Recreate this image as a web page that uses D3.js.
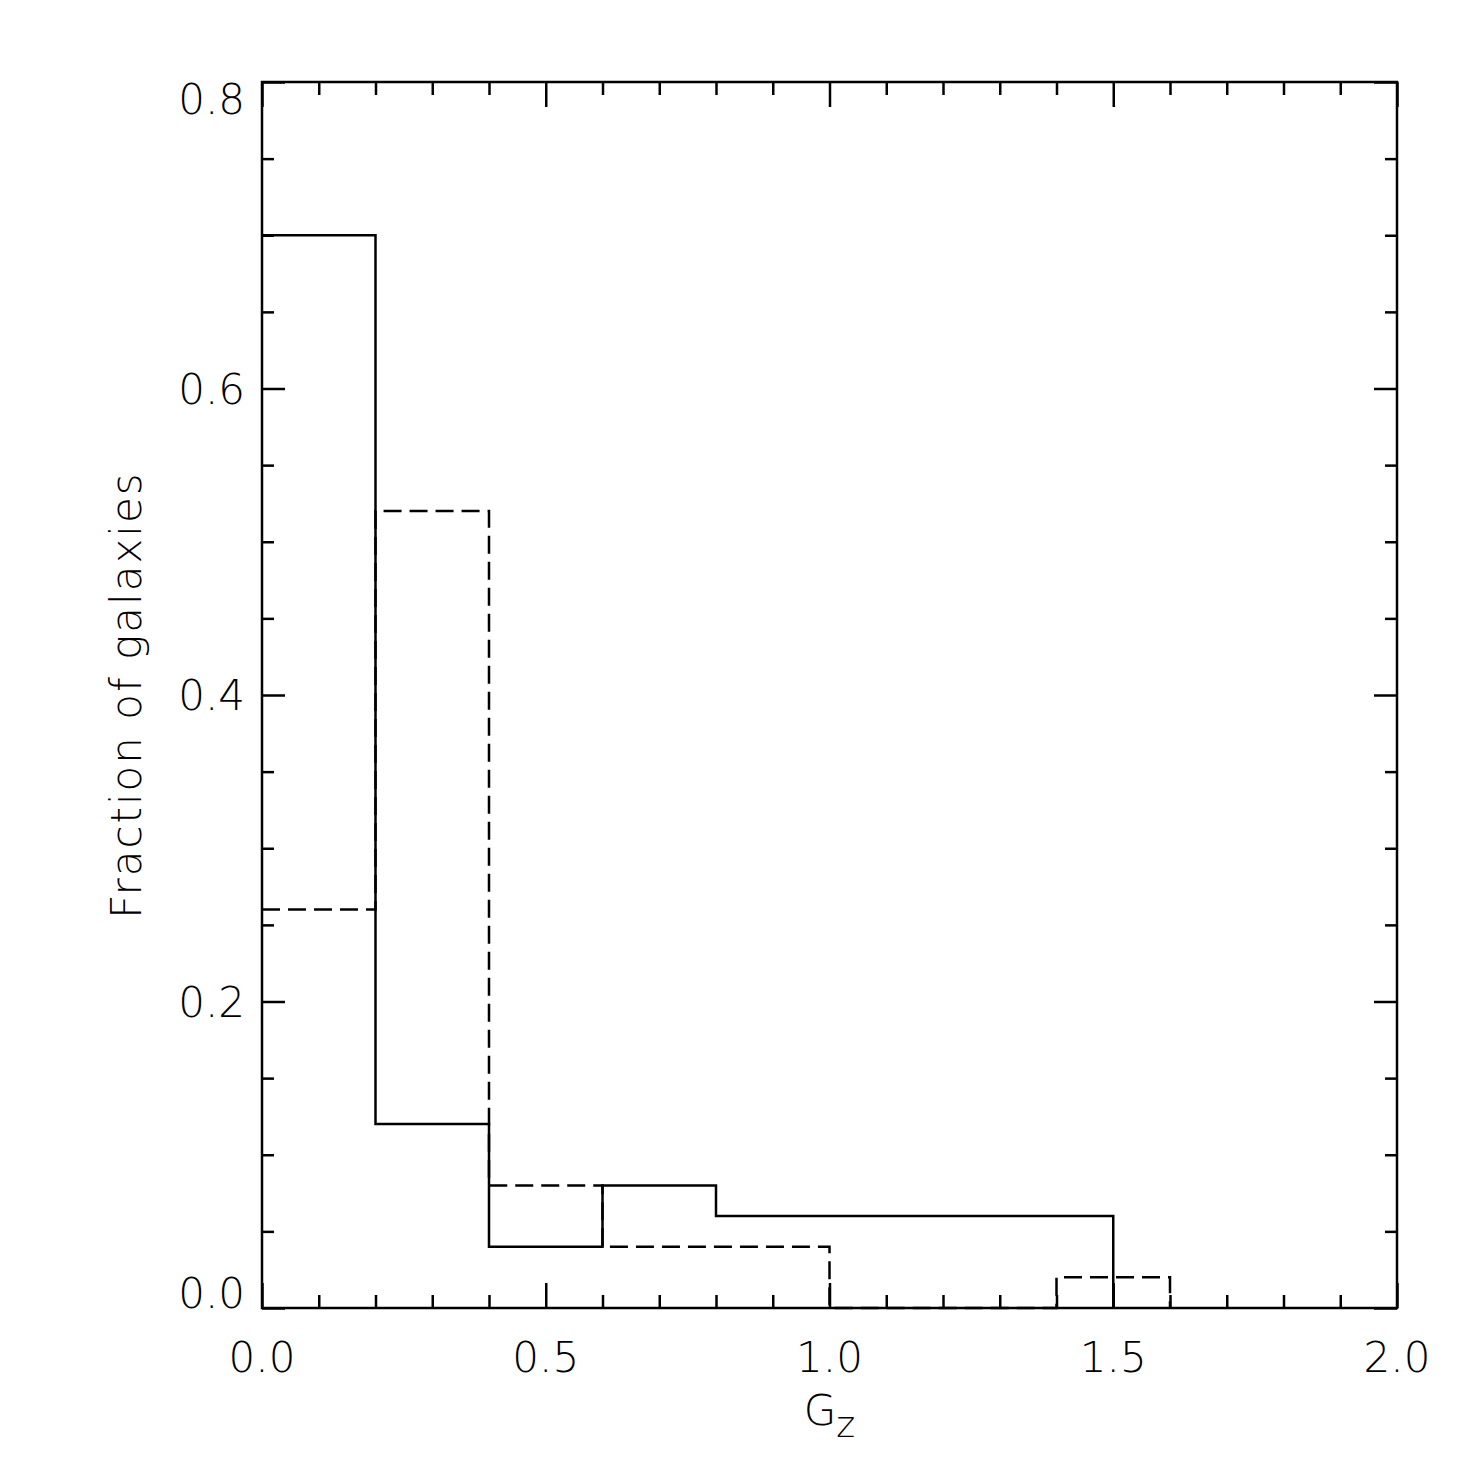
<!DOCTYPE html>
<html>
<head>
<meta charset="utf-8">
<script src="https://cdn.jsdelivr.net/npm/d3@7"></script>
<style>
  html, body { margin: 0; padding: 0; background: #fff; }
  svg text { font-family: "DejaVu Sans", sans-serif; font-weight: 200; fill: #000; }
</style>
</head>
<body>
<svg id="chart" width="1475" height="1475"></svg>
<script>
// histogram bins
const solidLo = [0.0, 0.2, 0.4, 0.6, 0.8];
const solidHi = [0.2, 0.4, 0.6, 0.8, 1.5];
const solidVal = [0.70, 0.12, 0.04, 0.08, 0.06];

const dashLo = [0.0, 0.2, 0.4, 0.6, 1.0, 1.4];
const dashHi = [0.2, 0.4, 0.6, 1.0, 1.4, 1.6];
const dashVal = [0.26, 0.52, 0.08, 0.04, 0.0, 0.02];

const xMajor = [0.0, 0.5, 1.0, 1.5, 2.0];
const yMajor = [0.0, 0.2, 0.4, 0.6, 0.8];

const margin = {left: 262, top: 82, right: 78, bottom: 167};
const width = 1475, height = 1475;
const innerW = width - margin.left - margin.right;
const innerH = height - margin.top - margin.bottom;

const svg = d3.select('#chart');
const g = svg.append('g').attr('transform', `translate(${margin.left},${margin.top})`);

const x = d3.scaleLinear().domain([0, 2]).range([0, innerW]);
const y = d3.scaleLinear().domain([0, 0.8]).range([innerH, 0]);

const xMinor = d3.range(0, 2.0001, 0.1).filter(v => !xMajor.some(m => Math.abs(m - v) < 1e-6));
const yMinor = d3.range(0, 0.8001, 0.05).filter(v => !yMajor.some(m => Math.abs(m - v) < 1e-6));

// tick marks on all four sides, pointing inward
function ticks(axisFn, vals, size, tr){
	const a = axisFn.tickValues(vals).tickSize(size).tickFormat('');
	const sel = g.append('g').attr('transform', tr).call(a);
	sel.selectAll('.domain').remove();
	sel.selectAll('.tick line').attr('stroke', '#000').attr('stroke-width', 2.5);
}
ticks(d3.axisBottom(x), xMajor, -25, `translate(0,${innerH})`);
ticks(d3.axisBottom(x), xMinor, -13, `translate(0,${innerH})`);
ticks(d3.axisTop(x), xMajor, -25, 'translate(0,0)');
ticks(d3.axisTop(x), xMinor, -13, 'translate(0,0)');
ticks(d3.axisLeft(y), yMajor, -23, 'translate(0,0)');
ticks(d3.axisLeft(y), yMinor, -12, 'translate(0,0)');
ticks(d3.axisRight(y), yMajor, -23, `translate(${innerW},0)`);
ticks(d3.axisRight(y), yMinor, -12, `translate(${innerW},0)`);

// frame
g.append('rect')
	.attr('x', 0).attr('y', 0).attr('width', innerW).attr('height', innerH)
	.attr('fill', 'none').attr('stroke', '#000').attr('stroke-width', 2.5);

// tick labels
const fmt = d3.format('.1f');
g.selectAll('.xlab').data(xMajor).join('text')
	.attr('class', 'xlab')
	.attr('x', d => x(d)).attr('y', innerH + 64)
	.attr('text-anchor', 'middle')
	.style('font-size', '42px')
	.text(fmt);

// end labels are kept inside the axis span, like IDL does
g.selectAll('.ylab').data(yMajor).join('text')
	.attr('class', 'ylab')
	.attr('x', -17)
	.attr('y', d => Math.min(innerH, Math.max(y(d) + 15, 32)))
	.attr('text-anchor', 'end')
	.style('font-size', '42px')
	.text(fmt);

// axis titles
const xt = g.append('text')
	.attr('x', x(1.0)).attr('y', innerH + 117)
	.attr('text-anchor', 'middle')
	.style('font-size', '42px');
xt.append('tspan').text('G');
xt.append('tspan').attr('dy', 12).style('font-size', '36px').text('z');

g.append('text')
	.attr('transform', `translate(${-121},${y(0.4)}) rotate(-90)`)
	.attr('text-anchor', 'middle')
	.style('font-size', '42px')
	.style('letter-spacing', '2px')
	.text('Fraction of galaxies');

// step histograms
function stepPoints(lo, hi, val){
	const pts = [];
	lo.forEach((l, i) => { pts.push([l, val[i]]); pts.push([hi[i], val[i]]); });
	pts.push([hi[hi.length - 1], 0]);
	return pts;
}
const line = d3.line().x(d => x(d[0])).y(d => y(d[1]));

g.append('path')
	.attr('d', line(stepPoints(dashLo, dashHi, dashVal)))
	.attr('fill', 'none').attr('stroke', '#000').attr('stroke-width', 2.5)
	.attr('stroke-dasharray', '18,8');

g.append('path')
	.attr('d', line(stepPoints(solidLo, solidHi, solidVal)))
	.attr('fill', 'none').attr('stroke', '#000').attr('stroke-width', 2.5);
</script>
</body>
</html>
